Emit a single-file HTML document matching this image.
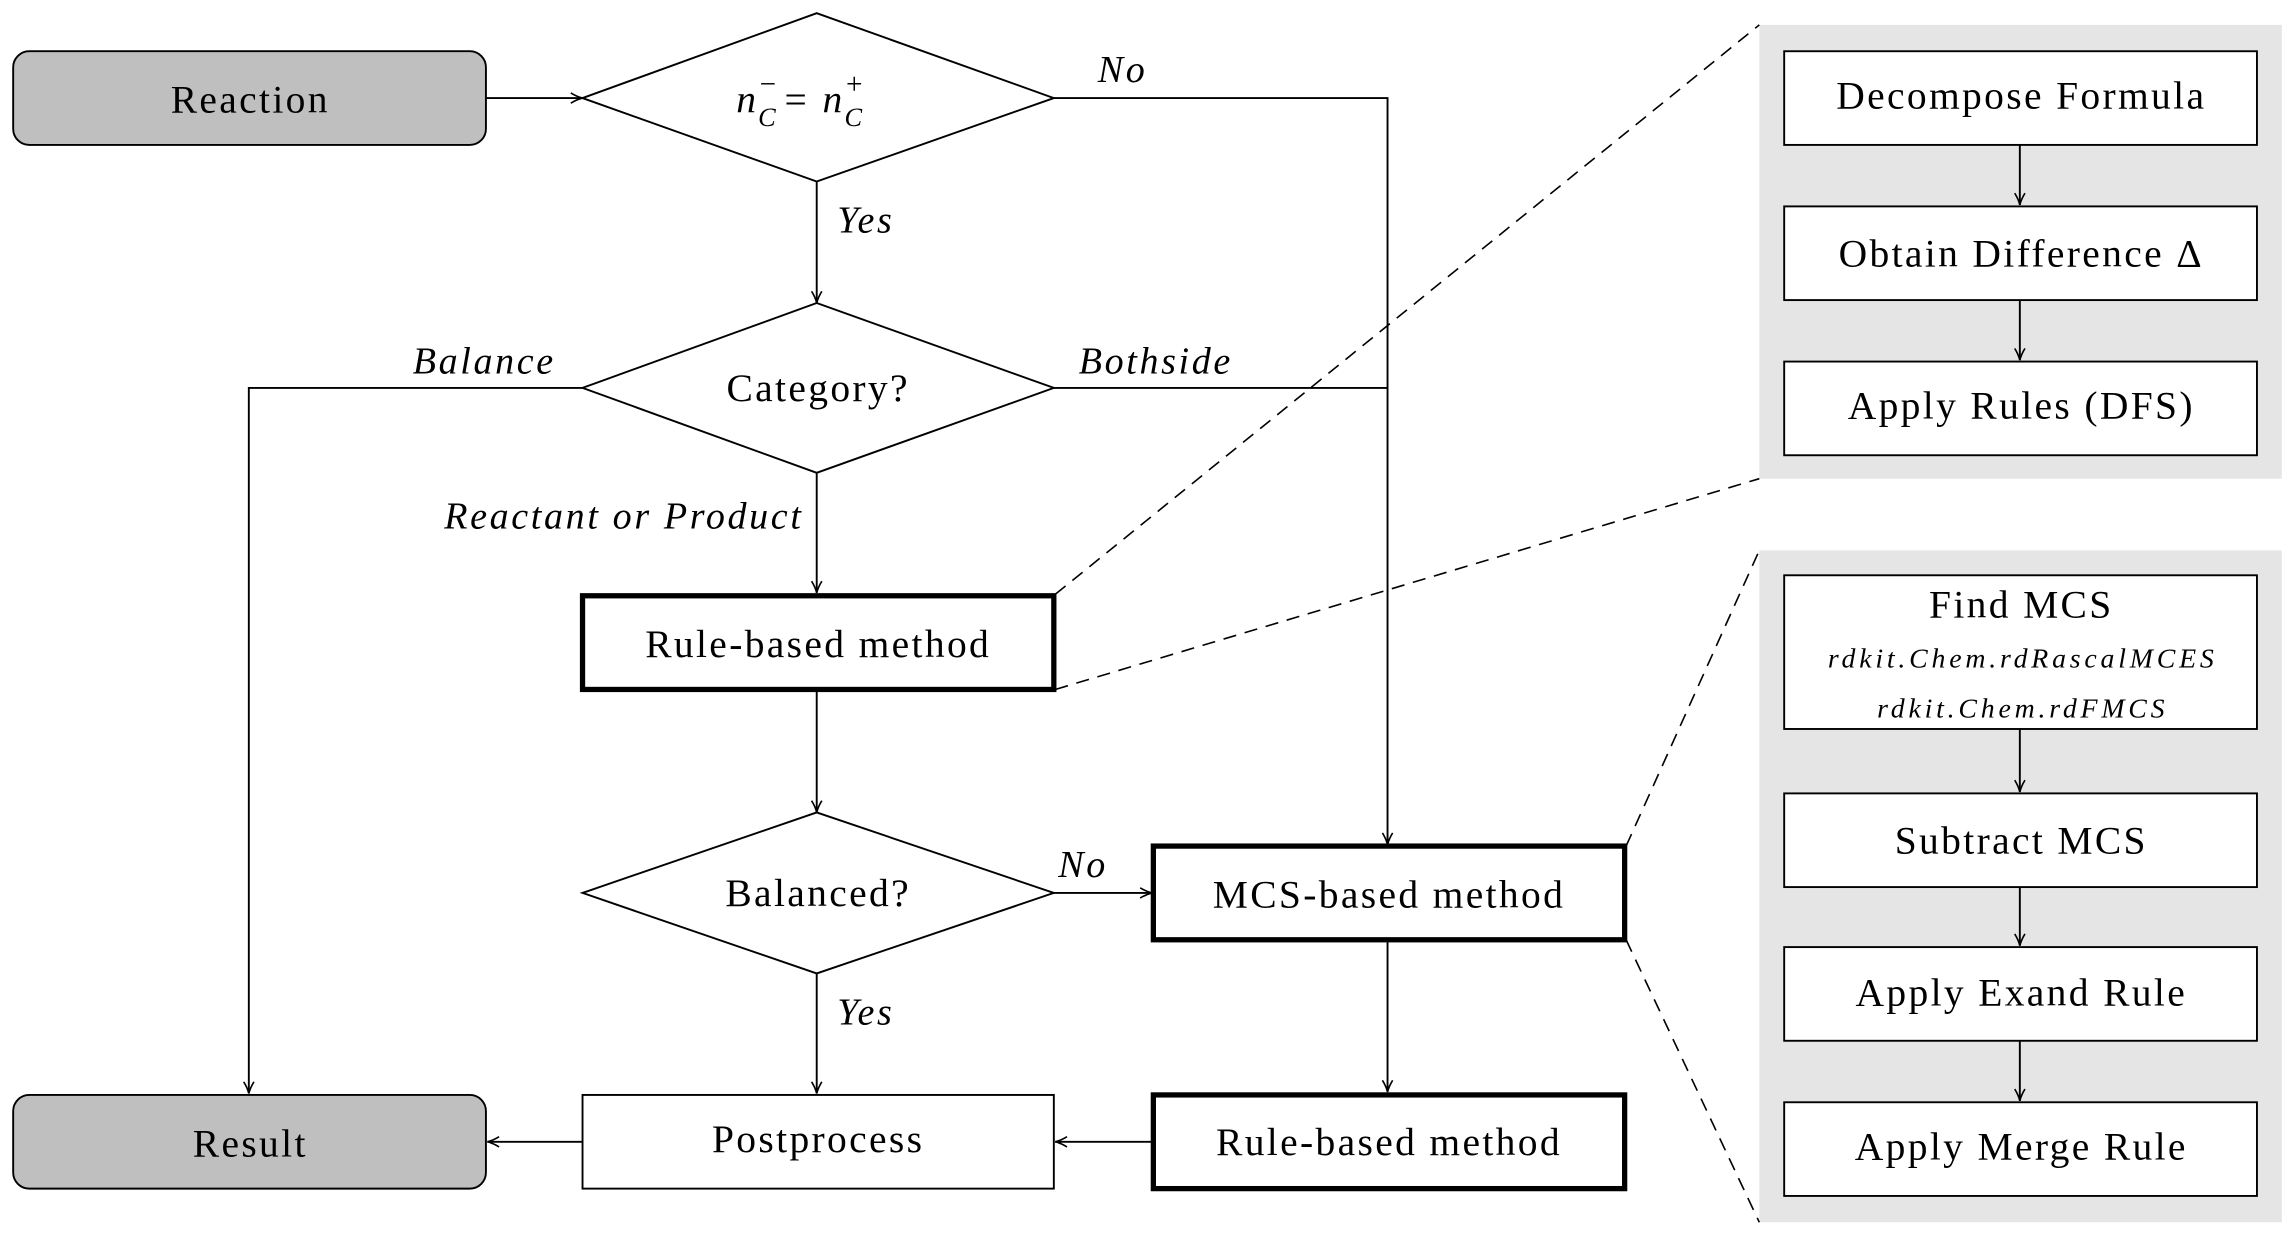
<!DOCTYPE html>
<html><head><meta charset="utf-8"><style>
html,body{margin:0;padding:0;background:#fff;}
svg{display:block;}
text{font-family:"Liberation Serif",serif;fill:#000;}
</style></head><body>
<svg width="2295" height="1234" viewBox="0 0 1568 843" preserveAspectRatio="none" xmlns="http://www.w3.org/2000/svg">
<defs>
<marker id="a" markerWidth="10" markerHeight="10" refX="9" refY="5" orient="auto" markerUnits="userSpaceOnUse">
<path d="M1,1.5 Q5,4 9,5 Q5,6 1,8.5" fill="none" stroke="#000" stroke-width="1.1"/>
</marker>
</defs>
<rect x="1202" y="17" width="357" height="310" fill="#e5e5e5"/>
<rect x="1202" y="376" width="357" height="459" fill="#e5e5e5"/>
<g stroke="#000" stroke-width="1.1" stroke-dasharray="9,6" fill="none">
<line x1="721" y1="406" x2="1202" y2="17"/>
<line x1="721" y1="471" x2="1202" y2="327"/>
<line x1="1111" y1="578" x2="1202" y2="376"/>
<line x1="1111" y1="642" x2="1202" y2="835"/>
</g>
<g stroke="#000" stroke-width="1.3" fill="none">
<line x1="332" y1="67" x2="398" y2="67" marker-end="url(#a)"/>
<polyline points="720,67 948,67 948,577" marker-end="url(#a)"/>
<line x1="558" y1="124" x2="558" y2="207" marker-end="url(#a)"/>
<polyline points="398,265 170,265 170,747" marker-end="url(#a)"/>
<line x1="720" y1="265" x2="948" y2="265"/>
<line x1="558" y1="323" x2="558" y2="405" marker-end="url(#a)"/>
<line x1="558" y1="472" x2="558" y2="555" marker-end="url(#a)"/>
<line x1="720" y1="610" x2="787" y2="610" marker-end="url(#a)"/>
<line x1="948" y1="643" x2="948" y2="746" marker-end="url(#a)"/>
<line x1="558" y1="665" x2="558" y2="747" marker-end="url(#a)"/>
<line x1="787" y1="780" x2="721" y2="780" marker-end="url(#a)"/>
<line x1="398" y1="780" x2="333" y2="780" marker-end="url(#a)"/>
<line x1="1380" y1="99" x2="1380" y2="140" marker-end="url(#a)"/>
<line x1="1380" y1="205" x2="1380" y2="246" marker-end="url(#a)"/>
<line x1="1380" y1="498" x2="1380" y2="541" marker-end="url(#a)"/>
<line x1="1380" y1="606" x2="1380" y2="646" marker-end="url(#a)"/>
<line x1="1380" y1="711" x2="1380" y2="752" marker-end="url(#a)"/>
</g>
<g stroke="#000" stroke-width="1.3">
<rect x="9" y="35" width="323" height="64" rx="11" fill="#bfbfbf"/>
<rect x="9" y="748" width="323" height="64" rx="11" fill="#bfbfbf"/>
<polygon points="398,67 558,9 720,67 558,124" fill="#fff"/>
<polygon points="398,265 558,207 720,265 558,323" fill="#fff"/>
<polygon points="398,610 558,555 720,610 558,665" fill="#fff"/>
<rect x="398" y="748" width="322" height="64" fill="#fff"/>
<rect x="1219" y="35" width="323" height="64" fill="#fff"/>
<rect x="1219" y="141" width="323" height="64" fill="#fff"/>
<rect x="1219" y="247" width="323" height="64" fill="#fff"/>
<rect x="1219" y="393" width="323" height="105" fill="#fff"/>
<rect x="1219" y="542" width="323" height="64" fill="#fff"/>
<rect x="1219" y="647" width="323" height="64" fill="#fff"/>
<rect x="1219" y="753" width="323" height="64" fill="#fff"/>
</g>
<g stroke="#000" stroke-width="3.6" fill="#fff">
<rect x="398" y="407" width="322" height="64"/>
<rect x="788" y="578" width="322" height="64"/>
<rect x="788" y="748" width="322" height="64"/>
</g>
<g font-size="27" text-anchor="middle" letter-spacing="1.6">
<text x="171" y="77">Reaction</text>
<text x="171" y="790">Result</text>
<text x="559" y="274">Category?</text>
<text x="559" y="619">Balanced?</text>
<text x="559" y="449">Rule-based method</text>
<text x="559" y="787">Postprocess</text>
<text x="949" y="620">MCS-based method</text>
<text x="949" y="789">Rule-based method</text>
<text x="1381" y="74">Decompose Formula</text>
<text x="1381" y="182">Obtain Difference Δ</text>
<text x="1381" y="286">Apply Rules (DFS)</text>
<text x="1381" y="422">Find MCS</text>
<text x="1381" y="583">Subtract MCS</text>
<text x="1381" y="687">Apply Exand Rule</text>
<text x="1381" y="792">Apply Merge Rule</text>
</g>
<g font-size="19" font-style="italic" text-anchor="middle" letter-spacing="2.6">
<text x="1382" y="456">rdkit.Chem.rdRascalMCES</text>
<text x="1382" y="490">rdkit.Chem.rdFMCS</text>
</g>
<g font-size="27" font-style="italic">
<text x="503" y="77">n</text><text x="518" y="86" font-size="18">C</text><text x="519" y="64" font-size="20" font-style="normal">−</text>
<text x="536" y="77" font-style="normal">=</text>
<text x="562" y="77">n</text><text x="577" y="86" font-size="18">C</text><text x="578" y="64" font-size="20" font-style="normal">+</text>
</g>
<g font-size="26" font-style="italic" letter-spacing="1.8">
<text x="750" y="56">No</text>
<text x="572" y="159">Yes</text>
<text x="282" y="255">Balance</text>
<text x="737" y="255">Bothside</text>
<text x="549" y="361" text-anchor="end">Reactant or Product</text>
<text x="723" y="599">No</text>
<text x="572" y="700">Yes</text>
</g>
</svg>
</body></html>
